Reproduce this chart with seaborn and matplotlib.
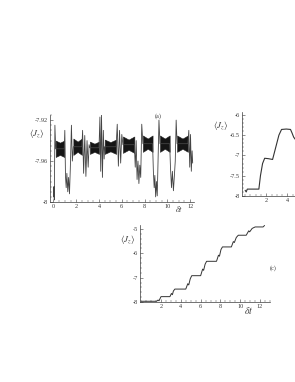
import numpy as np
import pandas as pd
import seaborn as sns
import matplotlib.pyplot as plt
from matplotlib.ticker import MultipleLocator

# ---- panel (a): fast-oscillation bands + excursions between them
a_t = [0.0, 0.04, 0.08, 0.13, 0.2,
       0.95, 1.0, 1.06, 1.12, 1.18, 1.26, 1.33, 1.41, 1.48, 1.58, 1.66, 1.75,
       2.5, 2.56, 2.65, 2.75, 2.85, 2.95, 3.05, 3.13, 3.2,
       4.0, 4.08, 4.15, 4.22, 4.3, 4.38, 4.45, 4.5,
       5.5, 5.6, 5.7, 5.8, 5.9, 6.0, 6.1,
       7.1, 7.18, 7.26, 7.34, 7.42, 7.5, 7.58, 7.66, 7.75, 7.85,
       8.7, 8.77, 8.84, 8.9, 8.97, 9.04, 9.11, 9.18, 9.26, 9.35,
       10.2, 10.27, 10.36, 10.44, 10.53, 10.61, 10.69, 10.77, 10.85,
       11.8, 11.88, 11.96, 12.03, 12.1, 12.17, 12.22]
a_v = [-7.995, -7.985, -7.998, -7.925, -7.948,
       -7.948, -7.93, -7.975, -7.986, -7.972, -7.99, -7.976, -7.992, -7.968, -7.925, -7.96, -7.946,
       -7.946, -7.93, -7.972, -7.935, -7.975, -7.94, -7.966, -7.944, -7.947,
       -7.947, -7.917, -7.97, -7.915, -7.976, -7.93, -7.958, -7.946,
       -7.946, -7.924, -7.965, -7.93, -7.962, -7.934, -7.944,
       -7.944, -7.966, -7.94, -7.978, -7.96, -7.982, -7.964, -7.976, -7.924, -7.943,
       -7.943, -7.97, -7.986, -7.974, -7.995, -7.98, -7.994, -7.96, -7.92, -7.943,
       -7.943, -7.966, -7.986, -7.97, -7.989, -7.975, -7.96, -7.92, -7.943,
       -7.943, -7.93, -7.966, -7.934, -7.97, -7.95, -7.962]

band_start = [0.2, 1.75, 3.2, 4.5, 6.1, 7.85, 9.35, 10.85]
band_end = [0.95, 2.5, 4.0, 5.5, 7.1, 8.7, 10.2, 11.8]
band_center = [-7.948, -7.946, -7.947, -7.946, -7.944, -7.943, -7.943, -7.943]
band_half_end = [0.008, 0.008, 0.006, 0.007, 0.008, 0.008, 0.008, 0.008]
band_half_mid = [0.006, 0.005, 0.004, 0.0045, 0.005, 0.005, 0.005, 0.005]

# ---- panel (b)
b_t = [0.0, 0.1, 0.2, 1.3, 1.45, 1.65, 1.85, 2.2, 2.6, 2.8, 3.0, 3.2, 3.45, 3.9, 4.3, 4.45, 4.6, 4.8]
b_v = [-7.86, -7.9, -7.83, -7.83, -7.5, -7.2, -7.07, -7.08, -7.1, -6.9, -6.7, -6.5, -6.36, -6.35, -6.36, -6.45, -6.55, -6.62]

# ---- panel (c): staircase
c_t = [0.0, 1.55, 1.7, 1.8, 2.0, 2.9, 3.05, 3.15, 3.25, 3.4, 4.5, 4.7, 4.8, 4.95, 5.1, 6.0,
       6.2, 6.3, 6.45, 6.6, 7.6, 7.8, 7.9, 8.05, 8.2, 9.1, 9.3, 9.4, 9.6, 9.8, 10.6,
       10.85, 10.95, 11.2, 11.5, 12.3, 12.45]
c_v = [-7.97, -7.97, -7.92, -7.95, -7.78, -7.78, -7.65, -7.7, -7.55, -7.47, -7.47, -7.25, -7.3, -7.05, -6.92, -6.92,
       -6.65, -6.7, -6.45, -6.33, -6.33, -6.08, -6.12, -5.85, -5.74, -5.74, -5.52, -5.56, -5.35, -5.26, -5.26,
       -5.08, -5.12, -4.98, -4.92, -4.92, -4.86]

a_yticks = [-8, -7.96, -7.92]
a_ylabels = ['-8', '-7.96', '-7.92']
b_yticks = [-8, -7.5, -7, -6.5, -6]
b_ylabels = ['-8', '-7.5', '-7', '-6.5', '-6']
c_yticks = [-8, -7, -6, -5]
c_ylabels = ['-8', '-7', '-6', '-5']

sns.set_style("ticks")
plt.rcParams['font.family'] = ['Liberation Serif', 'DejaVu Serif']
plt.rcParams['mathtext.fontset'] = 'stix'

W, H = 295, 382
fig = plt.figure(figsize=(W / 100, H / 100), dpi=100)
ink = '#3a3a3a'


def px_axes(left, top, right, bottom):
    return fig.add_axes([left / W, 1 - bottom / H, (right - left) / W, (bottom - top) / H])


def style(ax, xmin, ymin):
    ax.set_facecolor('none')
    for s in ['top', 'right']:
        ax.spines[s].set_visible(False)
    for s in ['left', 'bottom']:
        ax.spines[s].set_linewidth(0.5)
        ax.spines[s].set_color(ink)
    ax.tick_params(which='major', direction='in', length=2.5, width=0.4, labelsize=4.5,
                   pad=1.5, colors=ink)
    ax.tick_params(which='minor', direction='in', length=1.2, width=0.3, colors=ink)
    ax.xaxis.set_minor_locator(MultipleLocator(xmin))
    ax.yaxis.set_minor_locator(MultipleLocator(ymin))
    ax.set_xlabel('')
    ax.set_ylabel('')


# (a)
ax_a = px_axes(50, 115, 193.6, 202)
for t0, t1, c, he, hm in zip(band_start, band_end, band_center, band_half_end, band_half_mid):
    tt = [t0, (t0 + t1) / 2, t1]
    ax_a.fill_between(tt, [c - he, c - hm, c - he], [c + he, c + hm, c + he],
                      color='#151515', linewidth=0.4, edgecolor='#222222')
sns.lineplot(x=a_t, y=a_v, ax=ax_a, sort=False, estimator=None, color='#444444', linewidth=0.6)
ax_a.set_xlim(-0.3, 12.3)
ax_a.set_ylim(-8.0, -7.915)
ax_a.set_xticks([0, 2, 4, 6, 8, 10, 12])
ax_a.set_yticks(a_yticks, labels=a_ylabels)
style(ax_a, 0.5, 0.005)

# (b)
ax_b = px_axes(242, 112, 300, 196)
sns.lineplot(x=b_t, y=b_v, ax=ax_b, sort=False, estimator=None, color='#333333', linewidth=0.8)
ax_b.set_xlim(-0.3, 5.2)
ax_b.set_ylim(-8.0, -5.93)
ax_b.set_xticks([2, 4])
ax_b.set_yticks(b_yticks, labels=b_ylabels)
style(ax_b, 0.5, 0.1)

# (c)
ax_c = px_axes(140, 225, 270, 302)
sns.lineplot(x=c_t, y=c_v, ax=ax_c, sort=False, estimator=None, color='#333333', linewidth=0.7)
ax_c.set_xlim(-0.12, 13.0)
ax_c.set_ylim(-8.0, -4.84)
ax_c.set_xticks([2, 4, 6, 8, 10, 12])
ax_c.set_yticks(c_yticks, labels=c_ylabels)
style(ax_c, 0.5, 0.2)


def ftext(x, y, s, size):
    fig.text(x / W, 1 - y / H, s, fontsize=size, color=ink, ha='center', va='center')


jz = r'$\langle J_z \rangle$'
ftext(37, 133, jz, 6.5)
ftext(221, 126, jz, 6.5)
ftext(128, 240, jz, 6.5)
ftext(158, 116, '(a)', 4.5)
ftext(273, 268, '(c)', 4.5)
ftext(179, 209, r'$\delta t$', 6)
ftext(249, 311, r'$\delta t$', 7)

fig.savefig('out.png', dpi=100)
